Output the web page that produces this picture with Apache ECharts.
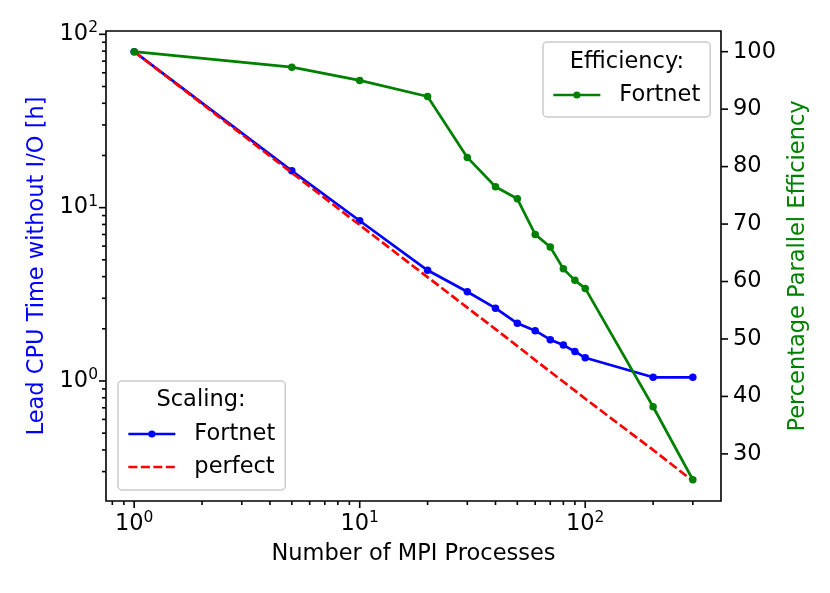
<!DOCTYPE html>
<html>
<head>
<meta charset="utf-8">
<script src="https://cdn.jsdelivr.net/npm/echarts@6/dist/echarts.min.js"></script>
<style>
  html, body { margin: 0; padding: 0; background: #fff; }
  #main { width: 830px; height: 593px; }
</style>
</head>
<body>
<div id="main"></div>
<script>
// data
var procs = [1, 5, 10, 20, 30, 40, 50, 60, 70, 80, 90, 100, 200, 300];
var cpuTime = [79.4, 16.3, 8.4, 4.35, 3.27, 2.63, 2.15, 1.95, 1.73, 1.61, 1.48, 1.36, 1.05, 1.05];
var perfect = [79.4, 15.88, 7.94, 3.97, 2.65, 1.99, 1.59, 1.32, 1.13, 0.99, 0.88, 0.79, 0.40, 0.265];
var efficiency = [100, 97.3, 95.0, 92.2, 81.6, 76.5, 74.4, 68.2, 66.0, 62.2, 60.2, 58.8, 38.2, 25.5];

// ticks
var xMajor = [1, 10, 100];
var xMinor = [0.8, 0.9, 2, 3, 4, 5, 6, 7, 8, 9, 20, 30, 40, 50, 60, 70, 80, 90, 200, 300];
var yMajor = [1, 10, 100];
var yMinor = [0.3, 0.4, 0.5, 0.6, 0.7, 0.8, 0.9, 2, 3, 4, 5, 6, 7, 8, 9, 20, 30, 40, 50, 60, 70, 80, 90];
var effTicks = [30, 40, 50, 60, 70, 80, 90, 100];

var FONT = 'DejaVu Sans';
var FS = 22.5;
var LW = 2.7;

var chart = echarts.init(document.getElementById('main'));

// 10^n style labels for log axes
function powLabel(v) {
  var e = Math.round(Math.log10(v));
  if (Math.abs(v - Math.pow(10, e)) > 1e-6 * v) return '';
  return '{b|10}{e|' + e + '}';
}
var powRich = {
  b: { fontSize: FS, fontFamily: FONT, color: '#000', lineHeight: 28 },
  e: { fontSize: 15.5, fontFamily: FONT, color: '#000', lineHeight: 14, verticalAlign: 'top' }
};

function tickLine(x1, y1, x2, y2) {
  return {
    type: 'line',
    shape: { x1: x1, y1: y1, x2: x2, y2: y2 },
    style: { stroke: '#000', lineWidth: 1.6 }
  };
}

// tick marks: [x, y, isMajor]
var xTickData = xMajor.map(function (v) { return [v, 1, 1]; })
  .concat(xMinor.map(function (v) { return [v, 1, 0]; }));
var yTickData = yMajor.map(function (v) { return [1, v, 1]; })
  .concat(yMinor.map(function (v) { return [1, v, 0]; }));
var effTickData = effTicks.map(function (v) { return [1, v, 1]; });

var legendBase = {
  orient: 'vertical',
  itemWidth: 47, itemHeight: 9, itemGap: 4,
  backgroundColor: 'rgba(255,255,255,0.8)', borderColor: '#cccccc', borderWidth: 1.5, borderRadius: 4,
  textStyle: { fontSize: FS, fontFamily: FONT, color: '#000', lineHeight: 29, padding: [0, 0, 0, 14] },
  lineStyle: { width: LW },
  selectedMode: false
};

var option = {
  animation: false,
  backgroundColor: '#fff',
  grid: {
    left: 106, right: 109, top: 31, bottom: 92,
    show: true, borderColor: '#000', borderWidth: 1.6, backgroundColor: 'transparent'
  },
  xAxis: {
    type: 'log', logBase: 10, min: 0.75, max: 400,
    name: 'Number of MPI Processes', nameLocation: 'middle', nameGap: 42,
    nameTextStyle: { fontSize: FS, fontFamily: FONT, color: '#000' },
    axisLine: { show: false }, axisTick: { show: false }, splitLine: { show: false },
    axisLabel: { formatter: powLabel, rich: powRich, margin: 9 }
  },
  yAxis: [{
    type: 'log', logBase: 10, min: 0.203, max: 104.5,
    name: 'Lead CPU Time without I/O [h]', nameLocation: 'middle', nameGap: 57, nameRotate: 90,
    nameTextStyle: { fontSize: FS, fontFamily: FONT, color: '#0000ff' },
    axisLine: { show: false }, axisTick: { show: false }, splitLine: { show: false },
    axisLabel: { formatter: powLabel, rich: powRich, margin: 8 }
  }, {
    type: 'value', min: 21.8, max: 103.6, splitNumber: 8, position: 'right',
    name: 'Percentage Parallel Efficiency', nameLocation: 'middle', nameGap: 57, nameRotate: 90,
    nameTextStyle: { fontSize: FS, fontFamily: FONT, color: '#008000' },
    axisLine: { show: false }, axisTick: { show: false }, splitLine: { show: false },
    axisLabel: {
      fontSize: FS, fontFamily: FONT, color: '#000', margin: 12,
      formatter: function (v) { return (Math.abs(v % 10) < 1e-6 && v >= 30) ? String(Math.round(v)) : ''; }
    }
  }],
  legend: [
    Object.assign({}, legendBase, {
      left: 118, top: 381,
      padding: [38.5, 10, 8.5, 9],
      data: [
        { name: 'Fortnet' },
        { name: 'perfect', itemStyle: { opacity: 0 } }
      ]
    }),
    Object.assign({}, legendBase, {
      left: 543, top: 42,
      padding: [38.5, 10, 7.5, 9],
      data: ['eff'],
      formatter: function () { return 'Fortnet'; }
    })
  ],
  graphic: [{
    type: 'text', x: 201, y: 400, z: 100,
    style: { text: 'Scaling:', align: 'center', verticalAlign: 'middle', fontSize: FS, fontFamily: FONT, fill: '#000' }
  }, {
    type: 'text', x: 627, y: 62, z: 100,
    style: { text: 'Efficiency:', align: 'center', verticalAlign: 'middle', fontSize: FS, fontFamily: FONT, fill: '#000' }
  }],
  series: [{
    name: 'Fortnet', type: 'line', xAxisIndex: 0, yAxisIndex: 0, z: 2,
    data: procs.map(function (p, i) { return [p, cpuTime[i]]; }),
    symbol: 'circle', symbolSize: 7.5,
    lineStyle: { color: '#0000ff', width: LW },
    itemStyle: { color: '#0000ff' }
  }, {
    name: 'perfect', type: 'line', xAxisIndex: 0, yAxisIndex: 0, z: 3,
    data: procs.map(function (p, i) { return [p, perfect[i]]; }),
    symbol: 'none',
    lineStyle: { color: '#ff0000', width: LW, type: [9, 3.5] },
    itemStyle: { color: '#ff0000' }
  }, {
    name: 'eff', type: 'line', xAxisIndex: 0, yAxisIndex: 1, z: 4,
    data: procs.map(function (p, i) { return [p, efficiency[i]]; }),
    symbol: 'circle', symbolSize: 7.5,
    lineStyle: { color: '#008000', width: LW },
    itemStyle: { color: '#008000' }
  }, {
    // x ticks
    type: 'custom', xAxisIndex: 0, yAxisIndex: 0, silent: true, clip: false, z: 5,
    data: xTickData,
    renderItem: function (params, api) {
      var cs = params.coordSys;
      var x = api.coord([api.value(0), api.value(1)])[0];
      var b = cs.y + cs.height;
      var len = api.value(2) ? 7 : 4;
      return tickLine(x, b, x, b + len);
    }
  }, {
    // left y ticks
    type: 'custom', xAxisIndex: 0, yAxisIndex: 0, silent: true, clip: false, z: 5,
    data: yTickData,
    renderItem: function (params, api) {
      var cs = params.coordSys;
      var y = api.coord([api.value(0), api.value(1)])[1];
      var len = api.value(2) ? 7 : 4;
      return tickLine(cs.x, y, cs.x - len, y);
    }
  }, {
    // right y ticks
    type: 'custom', xAxisIndex: 0, yAxisIndex: 1, silent: true, clip: false, z: 5,
    data: effTickData,
    renderItem: function (params, api) {
      var cs = params.coordSys;
      var y = api.coord([api.value(0), api.value(1)])[1];
      var r = cs.x + cs.width;
      return tickLine(r, y, r + 7, y);
    }
  }]
};

chart.setOption(option);
</script>
</body>
</html>
